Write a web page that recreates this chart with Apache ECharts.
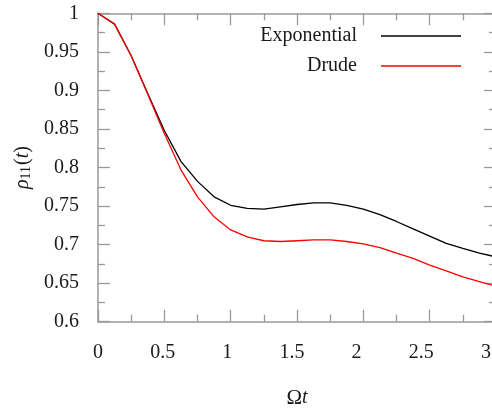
<!DOCTYPE html>
<html>
<head>
<meta charset="utf-8">
<script src="https://cdn.jsdelivr.net/npm/echarts@6/dist/echarts.min.js"></script>
<style>html,body{margin:0;padding:0;background:#fff;}#c{width:492px;height:409px;}</style>
</head>
<body>
<div id="c"></div>
<script>
const tValues = [0, 0.125, 0.25, 0.375, 0.5, 0.625, 0.75, 0.875, 1, 1.125, 1.25, 1.375, 1.5, 1.625, 1.75, 1.875, 2, 2.125, 2.25, 2.375, 2.5, 2.625, 2.75, 2.875, 3];
const exponential = [1, 0.986, 0.945, 0.896, 0.848, 0.808, 0.782, 0.762, 0.751, 0.747, 0.746, 0.749, 0.752, 0.754, 0.754, 0.751, 0.746, 0.739, 0.730, 0.7205, 0.711, 0.7015, 0.695, 0.689, 0.684];
const drude = [1, 0.986, 0.945, 0.895, 0.844, 0.797, 0.762, 0.736, 0.719, 0.710, 0.705, 0.704, 0.705, 0.706, 0.706, 0.704, 0.701, 0.696, 0.689, 0.682, 0.6735, 0.666, 0.658, 0.652, 0.646];
const seriesNames = ['Exponential', 'Drude'];
const xTickLabels = ['0', '0.5', '1', '1.5', '2', '2.5', '3'];

const FONT = "'Liberation Serif', 'DejaVu Serif', serif";
const AX = '#999999';
const TXT = '#1a1a1a';
const chart = echarts.init(document.getElementById('c'), null, {renderer: 'canvas'});

function frameAxis(extra) {
  return Object.assign({
    axisLine: {show: true, onZero: false, lineStyle: {color: AX, width: 1.5}},
    axisTick: {show: true, inside: true, length: 12, lineStyle: {color: AX, width: 1.3}},
    minorTick: {show: true, splitNumber: 2, length: 7, lineStyle: {color: AX, width: 1.3}},
    splitLine: {show: false},
    axisLabel: {show: false}
  }, extra);
}

const option = {
  animation: false,
  backgroundColor: '#fff',
  grid: {left: 98, top: 13.3, right: -4, bottom: 87.3, containLabel: false, outerBoundsMode: 'none'},
  legend: {
    orient: 'vertical', align: 'right', right: 31, top: 25, padding: 0,
    icon: 'rect', itemWidth: 80, itemHeight: 1.4, itemGap: 8,
    data: seriesNames,
    textStyle: {fontFamily: FONT, fontSize: 20, color: TXT, padding: [0, 19, 0, 0], lineHeight: 22}
  },
  xAxis: [
    frameAxis({type: 'value', position: 'bottom', min: 0, max: 3, interval: 0.5,
      name: '{a|Ω}{b|t}', nameLocation: 'middle', nameGap: 66,
      nameTextStyle: {fontFamily: FONT, fontSize: 20, color: TXT,
        rich: {a: {fontFamily: FONT, fontSize: 21, color: TXT}, b: {fontFamily: FONT, fontSize: 20, fontStyle: 'italic', color: TXT}}}}),
    frameAxis({type: 'value', position: 'top', min: 0, max: 3, interval: 0.5}),
    {type: 'value', position: 'bottom', min: 0, max: 3.078, interval: 0.5,
      axisLine: {show: false}, axisTick: {show: false}, splitLine: {show: false},
      axisLabel: {show: true, margin: 21, fontFamily: FONT, fontSize: 20, color: TXT, showMaxLabel: true,
        formatter: function (v) { const i = Math.round(v / 0.5); return xTickLabels[i] !== undefined ? xTickLabels[i] : ''; }}}
  ],
  yAxis: [
    frameAxis({type: 'value', position: 'left', min: 0.6, max: 1, interval: 0.05,
      axisLabel: {show: true, margin: 19, fontFamily: FONT, fontSize: 20, color: TXT},
      name: '{i|ρ}{s|11}{n|(}{i|t}{n|)}', nameLocation: 'middle', nameGap: 63, nameRotate: 90,
      nameTextStyle: {fontFamily: FONT, fontSize: 20, color: TXT,
        rich: {
          i: {fontFamily: FONT, fontSize: 20, fontStyle: 'italic', color: TXT},
          n: {fontFamily: FONT, fontSize: 20, color: TXT},
          s: {fontFamily: FONT, fontSize: 14, color: TXT, verticalAlign: 'bottom', padding: [0, 1, 0, 0]}
        }}}),
    frameAxis({type: 'value', position: 'right', min: 0.6, max: 1, interval: 0.05})
  ],
  series: [
    {name: seriesNames[0], type: 'line', xAxisIndex: 0, yAxisIndex: 0, symbol: 'none',
      data: tValues.map((t, i) => [t, exponential[i]]), lineStyle: {color: '#000', width: 1.3}, itemStyle: {color: '#000'}},
    {name: seriesNames[1], type: 'line', xAxisIndex: 0, yAxisIndex: 0, symbol: 'none',
      data: tValues.map((t, i) => [t, drude[i]]), lineStyle: {color: '#ff0000', width: 1.3}, itemStyle: {color: '#ff0000'}}
  ]
};
chart.setOption(option);
</script>
</body>
</html>
